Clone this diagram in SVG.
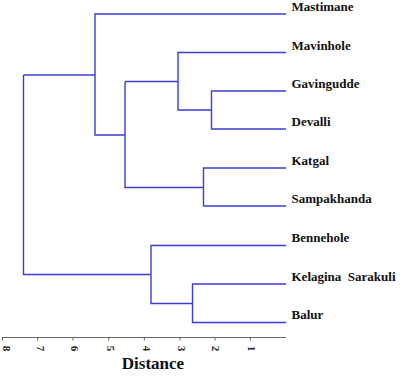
<svg xmlns="http://www.w3.org/2000/svg" width="400" height="379" viewBox="0 0 400 379">
<style>
.br{fill:none;stroke:#3c3cd6;stroke-width:1.4}
.lab{font-family:"Liberation Serif","Times New Roman",serif;font-weight:bold;font-size:13px;fill:#111}
.ax{fill:none;stroke:#666;stroke-width:1}
.tk{font-family:"Liberation Serif","Times New Roman",serif;font-weight:bold;font-size:11px;fill:#222}
</style>
<rect width="400" height="379" fill="#fff"/>
<g id="connectors">
<path class="br" d="M286,14H95V135H125"/>
<path class="br" d="M23.5,75H95"/>
<path class="br" d="M23.5,75V274.5H151"/>
<path class="br" d="M125,81.5V187.5H203.5"/>
<path class="br" d="M125,81.5H178"/>
<path class="br" d="M286,52.5H178V110H211.5"/>
<path class="br" d="M286,91H211.5V129H286"/>
<path class="br" d="M286,168H203.5V206H286"/>
<path class="br" d="M286,245.5H151V303.5H192.5"/>
<path class="br" d="M286,284H192.5V322.5H286"/>
</g>
<g id="Mastimane"><text class="lab" x="291.5" y="11">Mastimane</text></g>
<g id="Mavinhole"><text class="lab" x="291.5" y="49.5">Mavinhole</text></g>
<g id="Gavingudde"><text class="lab" x="291.5" y="88">Gavingudde</text></g>
<g id="Devalli"><text class="lab" x="291.5" y="126">Devalli</text></g>
<g id="Katgal"><text class="lab" x="291.5" y="165">Katgal</text></g>
<g id="Sampakhanda"><text class="lab" x="291.5" y="203">Sampakhanda</text></g>
<g id="Bennehole"><text class="lab" x="291.5" y="242">Bennehole</text></g>
<g id="Kelagina"><text class="lab" x="291.5" y="280.5" xml:space="preserve">Kelagina  Sarakuli</text></g>
<g id="Balur"><text class="lab" x="291.5" y="319">Balur</text></g>
<g id="axis">
<path class="ax" d="M2,337.5H286M2.5,337.5v3M37.7,337.5v3M73,337.5v3M108.7,337.5v3M144.3,337.5v3M180,337.5v3M215,337.5v3M250.3,337.5v3"/>
<text class="tk" transform="translate(6,348.5) rotate(90)" text-anchor="middle" dy="3.5">8</text>
<text class="tk" transform="translate(40.5,348.5) rotate(90)" text-anchor="middle" dy="3.5">7</text>
<text class="tk" transform="translate(74.5,348.5) rotate(90)" text-anchor="middle" dy="3.5">6</text>
<text class="tk" transform="translate(110,348.5) rotate(90)" text-anchor="middle" dy="3.5">5</text>
<text class="tk" transform="translate(146,348.5) rotate(90)" text-anchor="middle" dy="3.5">4</text>
<text class="tk" transform="translate(181,348.5) rotate(90)" text-anchor="middle" dy="3.5">3</text>
<text class="tk" transform="translate(215.5,348.5) rotate(90)" text-anchor="middle" dy="3.5">2</text>
<text class="tk" transform="translate(251,348.5) rotate(90)" text-anchor="middle" dy="3.5">1</text>
<text class="lab" x="153" y="369" text-anchor="middle" style="font-size:17px">Distance</text>
</g>
</svg>
